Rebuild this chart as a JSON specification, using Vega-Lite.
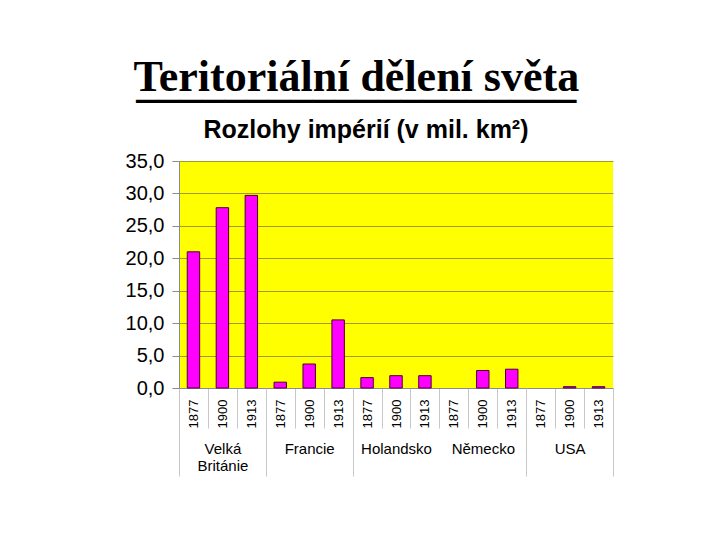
{
  "$schema": "https://vega.github.io/schema/vega-lite/v6.json",
  "background": "white",
  "padding": {"left": 125, "top": 56, "right": 5, "bottom": 5},
  "config": {
    "view": {"stroke": null, "fill": "#ffff00"},
    "font": "Liberation Sans"
  },
  "title": {
    "text": "Teritoriální dělení světa",
    "subtitle": "____________________",
    "font": "Liberation Serif",
    "fontSize": 44,
    "fontWeight": "bold",
    "color": "black",
    "subtitleFont": "Liberation Serif",
    "subtitleFontSize": 44,
    "subtitleFontWeight": "bold",
    "subtitleColor": "black",
    "subtitlePadding": -38,
    "anchor": "middle",
    "dx": -13,
    "offset": 12
  },
  "vconcat": [
    {
      "width": 434,
      "height": 227,
      "title": {
        "text": "Rozlohy impérií (v mil. km²)",
        "font": "Liberation Sans",
        "fontSize": 25,
        "fontWeight": "bold",
        "color": "black",
        "anchor": "middle",
        "dx": -30,
        "offset": 8
      },
      "data": {
        "values": [
          {"country": "Velká Británie", "year": "1877", "key": "Velká Británie|1877", "value": 21.0},
          {"country": "Velká Británie", "year": "1900", "key": "Velká Británie|1900", "value": 27.8},
          {"country": "Velká Británie", "year": "1913", "key": "Velká Británie|1913", "value": 29.7},
          {"country": "Francie", "year": "1877", "key": "Francie|1877", "value": 0.9},
          {"country": "Francie", "year": "1900", "key": "Francie|1900", "value": 3.7},
          {"country": "Francie", "year": "1913", "key": "Francie|1913", "value": 10.5},
          {"country": "Holandsko", "year": "1877", "key": "Holandsko|1877", "value": 1.6},
          {"country": "Holandsko", "year": "1900", "key": "Holandsko|1900", "value": 1.9},
          {"country": "Holandsko", "year": "1913", "key": "Holandsko|1913", "value": 1.9},
          {"country": "Německo", "year": "1877", "key": "Německo|1877", "value": 0},
          {"country": "Německo", "year": "1900", "key": "Německo|1900", "value": 2.7},
          {"country": "Německo", "year": "1913", "key": "Německo|1913", "value": 2.9},
          {"country": "USA", "year": "1877", "key": "USA|1877", "value": 0},
          {"country": "USA", "year": "1900", "key": "USA|1900", "value": 0.2},
          {"country": "USA", "year": "1913", "key": "USA|1913", "value": 0.2}
        ]
      },
      "resolve": {"axis": {"x": "independent"}},
      "layer": [
        {
          "mark": {"type": "bar", "fill": "#ff00ff", "stroke": "#4d0033", "strokeWidth": 1, "width": {"band": 0.43}},
          "encoding": {
            "x": {
              "field": "key", "type": "nominal", "sort": null,
              "scale": {"paddingInner": 0, "paddingOuter": 0},
              "axis": {
                "orient": "bottom",
                "title": null,
                "labelExpr": "isString(datum.value) ? split(datum.value, '|')[1] : ''",
                "labelAngle": -90,
                "labelAlign": "right",
                "labelBaseline": "middle",
                "labelFont": "Liberation Sans",
                "labelFontSize": 13,
                "labelColor": "black",
                "tickBand": "extent",
                "tickSize": 40,
                "tickColor": "#c8c8c8",
                "domainColor": "#8c8c8c",
                "labelPadding": -29,
                "labelOverlap": false,
                "labelBound": false
              }
            },
            "y": {
              "field": "value", "type": "quantitative",
              "scale": {"domain": [0, 35], "nice": false},
              "axis": {
                "title": null,
                "values": [0, 5, 10, 15, 20, 25, 30, 35],
                "labelExpr": "replace(format(datum.value, '.1f'), '.', ',')",
                "labelFont": "Liberation Sans",
                "labelFontSize": 20,
                "labelColor": "black",
                "labelPadding": 8,
                "labelOverlap": false,
                "tickSize": 7,
                "tickColor": "#8c8c8c",
                "domainColor": "#8c8c8c",
                "gridColor": "#a09a30",
                "gridOpacity": 1
              }
            },
            "strokeOpacity": {"condition": {"test": "datum.value === 0", "value": 0}, "value": 1}
          }
        },
        {
          "mark": {"type": "bar", "opacity": 0, "width": {"band": 0.43}},
          "encoding": {
            "x": {
              "field": "key", "type": "nominal", "sort": null,
              "axis": {
                "orient": "bottom",
                "title": null,
                "labelExpr": "isString(datum.value) && split(datum.value, '|')[1] === '1900' ? split(split(datum.value, '|')[0], ' ') : ''",
                "labelAngle": 0,
                "labelAlign": "center",
                "labelBaseline": "top",
                "labelFont": "Liberation Sans",
                "labelFontSize": 15,
                "labelLineHeight": 17,
                "labelColor": "black",
                "tickBand": "extent",
                "tickSize": 88,
                "tickColor": "#c8c8c8",
                "tickOpacity": {"condition": {"test": "!isString(datum.value) || (indexof(datum.value, '|1913') > 0 && indexof(datum.value, 'Holandsko') < 0)", "value": 1}, "value": 0},
                "domain": false,
                "labelPadding": -35,
                "labelOverlap": false,
                "labelBound": false
              }
            },
            "y": {
              "field": "value", "type": "quantitative",
              "scale": {"domain": [0, 35], "nice": false},
              "axis": {
                "title": null,
                "values": [0, 5, 10, 15, 20, 25, 30, 35],
                "labelExpr": "replace(format(datum.value, '.1f'), '.', ',')",
                "labelFont": "Liberation Sans",
                "labelFontSize": 20,
                "labelColor": "black",
                "labelPadding": 8,
                "labelOverlap": false,
                "tickSize": 7,
                "tickColor": "#8c8c8c",
                "domainColor": "#8c8c8c",
                "gridColor": "#a09a30",
                "gridOpacity": 1
              }
            }
          }
        }
      ]
    }
  ]
}
